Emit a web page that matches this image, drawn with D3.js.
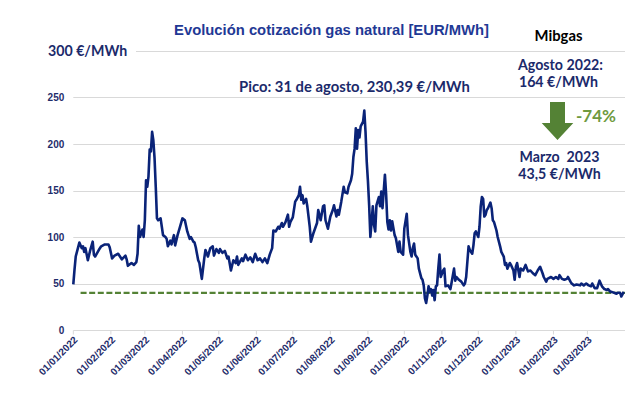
<!DOCTYPE html>
<html>
<head>
<meta charset="utf-8">
<script src="https://cdn.jsdelivr.net/npm/d3@7"></script>
<style>
  html, body { margin: 0; padding: 0; background: #fff; }
  #chart { width: 638px; height: 399px; }
  .tick-y { font: bold 10px 'Liberation Sans', Arial, sans-serif; fill: #1f2d6b; }
  .tick-x { font: bold 10px 'Liberation Sans', Arial, sans-serif; fill: #1f2d6b; }
  .note { font-family: Lato, 'Open Sans', sans-serif; font-weight: bold; fill: #1b2a6b; white-space: pre; }
</style>
</head>
<body>
<div id="chart"></div>
<script>
const START_DATE = new Date(2022, 0, 1)
const END_DATE = new Date(2023, 3, 1)

// days since 01/01/2022 and Mibgas price (EUR/MWh)
const PRICE_DAYS = [
  0, 1, 2, 5, 7, 8, 9, 10, 12, 14, 16, 17, 18, 21, 23, 26, 29, 30, 32, 34, 37, 40, 43, 44, 45, 48, 50, 52, 53, 54,
  55, 57, 58, 59, 60, 61, 62, 63, 64, 65, 66, 67, 68, 69, 70, 72, 73, 74, 76, 77, 78, 80, 81, 83, 84, 86, 88, 90, 92, 94,
  96, 97, 99, 100, 101, 103, 104, 106, 108, 109, 111, 113, 115, 116, 118, 120, 121, 123, 125, 127, 128, 130, 132, 134, 135, 136, 139, 140, 142, 144,
  146, 148, 150, 152, 154, 156, 158, 160, 162, 164, 165, 167, 169, 170, 172, 173, 175, 176, 177, 178, 179, 181, 183, 184, 186, 187, 188, 189, 190, 192,
  193, 195, 196, 198, 201, 202, 204, 206, 207, 208, 210, 212, 214, 215, 217, 218, 219, 221, 223, 224, 226, 227, 229, 230, 231, 232, 233, 234, 235, 236,
  237, 239, 240, 241, 242, 243, 244, 245, 246, 247, 248, 249, 250, 252, 253, 254, 255, 256, 257, 258, 259, 260, 261, 262, 263, 265, 266, 268, 269, 270,
  272, 273, 275, 276, 278, 279, 280, 281, 282, 284, 285, 287, 288, 289, 290, 291, 292, 293, 294, 295, 296, 297, 298, 299, 300, 301, 302, 303, 305, 306,
  307, 309, 311, 312, 314, 315, 316, 318, 320, 322, 323, 324, 326, 327, 329, 330, 331, 332, 334, 335, 336, 337, 338, 339, 340, 341, 342, 344, 345, 346,
  347, 349, 350, 352, 353, 355, 356, 357, 358, 360, 361, 363, 364, 365, 366, 368, 369, 371, 373, 375, 377, 379, 381, 383, 385, 387, 388, 390, 391, 394,
  396, 398, 400, 401, 403, 405, 407, 408, 410, 411, 413, 415, 418, 419, 421, 423, 425, 427, 428, 430, 432, 434, 435, 436, 438, 440, 441, 443, 444, 446,
  448, 449, 451, 452, 454,
]
const PRICE_VALUES = [
  49, 65, 79, 94, 88, 90, 84, 88, 75, 86, 95, 81, 79, 86, 90, 92, 92, 89, 77, 80, 82, 76, 80, 76, 69, 72, 70, 73, 82, 112,
  100, 108, 100, 118, 161, 154, 165, 194, 192, 213, 204, 185, 154, 120, 118, 120, 111, 102, 100, 98, 90, 96, 92, 102, 91, 102, 111, 120, 118, 106,
  98, 100, 95, 94, 89, 75, 72, 55, 77, 86, 79, 88, 90, 80, 87, 83, 87, 83, 85, 77, 79, 64, 75, 72, 79, 70, 77, 74, 81, 75,
  78, 73, 82, 75, 77, 73, 77, 72, 81, 88, 107, 106, 111, 109, 115, 111, 116, 120, 124, 111, 116, 121, 138, 140, 145, 154, 140, 145, 136, 141,
  133, 111, 95, 104, 115, 129, 118, 133, 134, 118, 109, 122, 129, 134, 122, 129, 124, 138, 154, 148, 147, 154, 161, 168, 186, 195, 217, 195, 215, 207,
  219, 224, 236, 213, 181, 160, 134, 100, 116, 133, 113, 106, 134, 143, 133, 149, 131, 149, 167, 146, 116, 108, 118, 107, 117, 102, 99, 84, 95, 84,
  81, 109, 125, 102, 84, 79, 88, 93, 81, 77, 66, 56, 54, 48, 34, 29, 37, 47, 41, 44, 37, 43, 32, 47, 48, 66, 81, 57, 64, 66,
  47, 48, 44, 51, 66, 53, 57, 54, 52, 48, 50, 57, 90, 86, 82, 91, 104, 106, 100, 111, 133, 143, 141, 122, 124, 129, 131, 137, 131, 118,
  116, 107, 100, 90, 84, 79, 70, 72, 66, 72, 70, 64, 54, 68, 72, 57, 66, 64, 70, 63, 64, 61, 59, 64, 68, 61, 57, 52, 55, 57,
  55, 57, 55, 59, 55, 54, 55, 57, 52, 50, 48, 49, 48, 50, 48, 50, 48, 47, 50, 45, 45, 53, 50, 47, 44, 43, 44, 41, 41, 40,
  39, 40, 40, 36, 41,
]

const Y_TICKS = [0, 50, 100, 150, 200, 250]
const Y_TOP_LABEL = '300 €/MWh'
const REF_LEVEL = 40
const REF_FROM_DAY = 6
const REF_TO_DAY = 455

const TITLE = 'Evolución cotización gas natural [EUR/MWh]'
const PEAK_NOTE = 'Pico: 31 de agosto, 230,39 €/MWh'
const SIDE_NOTES = ['Mibgas', 'Agosto 2022:', '164 €/MWh', '-74%', 'Marzo  2023', '43,5 €/MWh']

const NAVY = '#1b2a6b'
const LINE_BLUE = '#0a2378'
const GREEN = '#548235'

const width = 638
const height = 399
const margin = { top: 51, right: 13, bottom: 69, left: 73.3 }

const svg = d3.select('#chart').append('svg').attr('width', width).attr('height', height)

const x = d3.scaleTime().domain([START_DATE, END_DATE]).range([margin.left, width - margin.right])
const y = d3.scaleLinear().domain([0, 300]).range([height - margin.bottom, margin.top])

const series = PRICE_DAYS.map((d, i) => ({ date: d3.timeDay.offset(START_DATE, d), value: PRICE_VALUES[i] }))

// gridlines
svg.append('g')
  .selectAll('line')
  .data(Y_TICKS.concat([300]))
  .join('line')
  .attr('x1', x.range()[0])
  .attr('x2', x.range()[1])
  .attr('y1', (d) => Math.round(y(d)) + 0.5)
  .attr('y2', (d) => Math.round(y(d)) + 0.5)
  .attr('stroke', '#d9d9d9')
  .attr('stroke-width', 1)

// y labels
svg.append('g')
  .selectAll('text')
  .data(Y_TICKS)
  .join('text')
  .attr('class', 'tick-y')
  .attr('x', margin.left - 9)
  .attr('y', (d) => y(d))
  .attr('dy', '0.35em')
  .attr('text-anchor', 'end')
  .text((d) => d)

const topLabel = svg.append('g')
topLabel.append('rect')
  .attr('x', 44).attr('y', y(300) - 10)
  .attr('width', 92).attr('height', 18)
  .attr('fill', '#fff')
topLabel.append('text')
  .attr('class', 'note')
  .attr('x', 48)
  .attr('y', y(300) + 4.5)
  .attr('font-size', 14.2)
  .text(Y_TOP_LABEL)

// x axis
const months = d3.timeMonth.range(START_DATE, END_DATE)
const xAxisG = svg.append('g').attr('transform', `translate(0,${Math.round(y(0)) + 0.5})`)
xAxisG.selectAll('line.tick')
  .data(months)
  .join('line')
  .attr('class', 'tick')
  .attr('x1', (d) => x(d)).attr('x2', (d) => x(d))
  .attr('y1', 0).attr('y2', 4)
  .attr('stroke', '#d9d9d9')
xAxisG.selectAll('text')
  .data(months)
  .join('text')
  .attr('class', 'tick-x')
  .attr('text-anchor', 'end')
  .attr('transform', (d) => `translate(${x(d) + 5},${10}) rotate(-45)`)
  .text(d3.timeFormat('%d/%m/%Y'))

// reference level
svg.append('line')
  .attr('x1', x(d3.timeDay.offset(START_DATE, REF_FROM_DAY)))
  .attr('x2', x(d3.timeDay.offset(START_DATE, REF_TO_DAY)))
  .attr('y1', y(REF_LEVEL))
  .attr('y2', y(REF_LEVEL))
  .attr('stroke', GREEN)
  .attr('stroke-width', 2.2)
  .attr('stroke-dasharray', '6,2.6')

// price line
const line = d3.line().x((d) => x(d.date)).y((d) => y(d.value))
svg.append('path')
  .datum(series)
  .attr('d', line)
  .attr('fill', 'none')
  .attr('stroke', LINE_BLUE)
  .attr('stroke-width', 2.6)
  .attr('stroke-linejoin', 'round')

// title and notes
svg.append('text')
  .attr('x', 331.5).attr('y', 35)
  .attr('text-anchor', 'middle')
  .attr('font-family', "'Liberation Sans', Arial, sans-serif")
  .attr('font-weight', 'bold')
  .attr('font-size', 14.8)
  .attr('fill', '#1f3995')
  .text(TITLE)

svg.append('text')
  .attr('class', 'note')
  .attr('x', 239).attr('y', 92)
  .attr('font-size', 14.8)
  .text(PEAK_NOTE)

const side = [
  { text: SIDE_NOTES[0], x: 558.5, y: 41, size: 14.8, fill: '#000' },
  { text: SIDE_NOTES[1], x: 560.5, y: 70, size: 14.2, fill: NAVY },
  { text: SIDE_NOTES[2], x: 558.5, y: 87, size: 14.2, fill: NAVY },
  { text: SIDE_NOTES[4], x: 559.5, y: 161.5, size: 14.2, fill: NAVY },
  { text: SIDE_NOTES[5], x: 559.5, y: 178.5, size: 14.2, fill: NAVY },
]
svg.append('g')
  .selectAll('text')
  .data(side)
  .join('text')
  .attr('class', 'note')
  .attr('x', (d) => d.x)
  .attr('y', (d) => d.y)
  .attr('text-anchor', 'middle')
  .attr('font-size', (d) => d.size)
  .style('fill', (d) => d.fill)
  .text((d) => d.text)

// down arrow
const arrowG = svg.append('g').attr('transform', 'translate(557.5,102)')
arrowG.append('path')
  .attr('d', 'M-7.5,0 H7.5 V21 H15.8 L0,38 L-15.8,21 H-7.5 Z')
  .attr('fill', GREEN)

svg.append('text')
  .attr('class', 'note')
  .attr('x', 576).attr('y', 121.7)
  .attr('font-size', 17)
  .style('fill', '#6f9a3f')
  .text(SIDE_NOTES[3])
</script>
</body>
</html>
